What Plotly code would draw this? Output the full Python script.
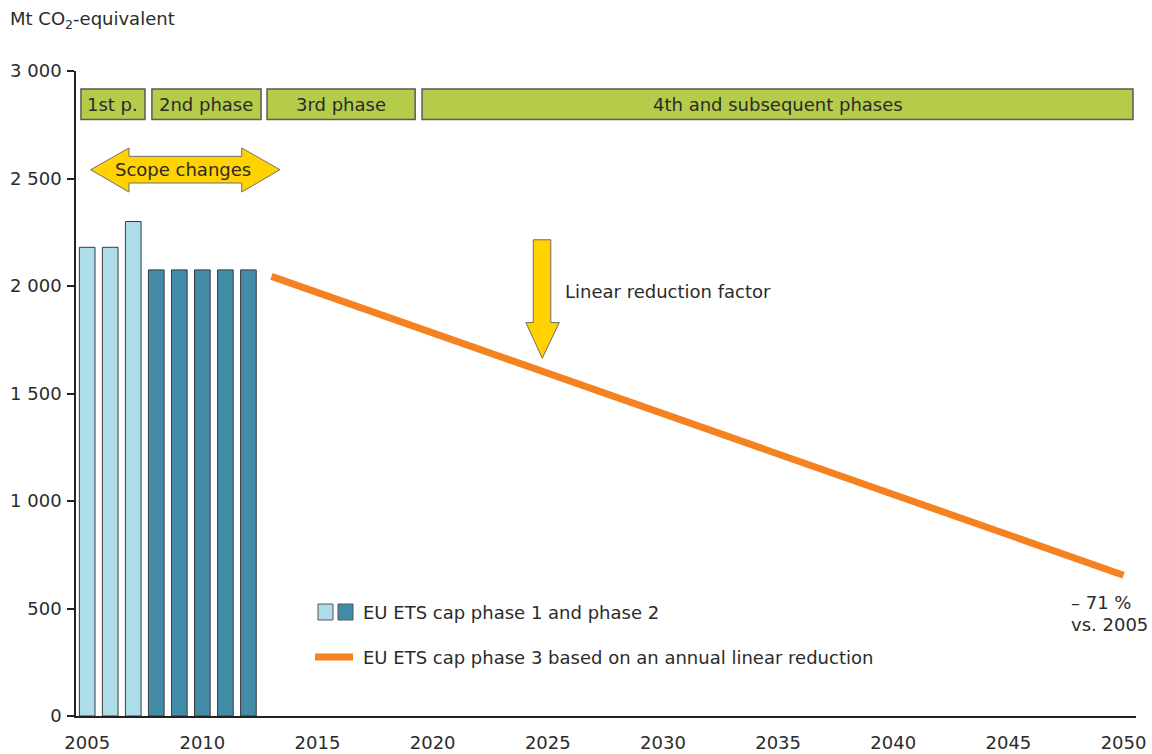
import plotly.graph_objects as go

# ---- data ----
phase1_years = [2005, 2006, 2007]
phase1_cap = [2180, 2180, 2300]
phase2_years = [2008, 2009, 2010, 2011, 2012]
phase2_cap = [2075, 2075, 2075, 2075, 2075]
phase3_years = [2013, 2050]
phase3_cap = [2045, 655]
x_ticks = [2005, 2010, 2015, 2020, 2025, 2030, 2035, 2040, 2045, 2050]
y_ticks = [0, 500, 1000, 1500, 2000, 2500, 3000]
phase_labels = ["1st p.", "2nd phase", "3rd phase", "4th and subsequent phases"]
phase_spans = [(2004.73, 2007.51), (2007.81, 2012.55), (2012.81, 2019.24), (2019.54, 2050.41)]

FONT = "DejaVu Sans"
TXT = "#2b2b2b"
LIGHT = "#acdde8"
DARK = "#438ca7"
ORANGE = "#f58220"
YELLOW = "#ffd200"
GREEN = "#b5cb4a"

# screen geometry (body margin removed via post_script)
W, H = 1152, 754
SL, SR, ST, SB = 76, 1136, 71, 716   # plot area in screen pixels
L, T, R, B = SL, ST, W - SR, H - SB
PW, PH = SR - SL, SB - ST


def px(x):
    return (x - SL) / PW


def py(y):
    return (SB - y) / PH


def ptext(x, y, text, size=18):
    return dict(x=px(x), y=py(y), xref="paper", yref="paper", xanchor="left", yanchor="middle",
                showarrow=False, text=text, font=dict(family=FONT, size=size, color=TXT))


fig = go.Figure()
fig.add_trace(go.Bar(x=phase1_years, y=phase1_cap, width=0.68,
                     marker=dict(color=LIGHT, line=dict(color="#3a3a3a", width=1)), showlegend=False))
fig.add_trace(go.Bar(x=phase2_years, y=phase2_cap, width=0.68,
                     marker=dict(color=DARK, line=dict(color="#3a3a3a", width=1)), showlegend=False))
fig.add_trace(go.Scatter(x=phase3_years, y=phase3_cap, mode="lines",
                         line=dict(color=ORANGE, width=7), showlegend=False))

shapes = []
annotations = []

# phase boxes
for lab, (x0, x1) in zip(phase_labels, phase_spans):
    shapes.append(dict(type="rect", xref="x", yref="y", x0=x0, x1=x1, y0=2774, y1=2916,
                       fillcolor=GREEN, line=dict(color="#5a5a5a", width=1.5), layer="above"))
    annotations.append(dict(x=(x0 + x1) / 2, y=2845, xref="x", yref="y", text=lab, showarrow=False,
                            font=dict(family=FONT, size=18, color=TXT)))

# scope changes double arrow
xa = [2005.15, 2006.815, 2011.71, 2013.37]
ya = [2437, 2479, 2541, 2603, 2642]
path = (f"M {xa[0]},{ya[2]} L {xa[1]},{ya[4]} L {xa[1]},{ya[3]} L {xa[2]},{ya[3]} L {xa[2]},{ya[4]} "
        f"L {xa[3]},{ya[2]} L {xa[2]},{ya[0]} L {xa[2]},{ya[1]} L {xa[1]},{ya[1]} L {xa[1]},{ya[0]} Z")
shapes.append(dict(type="path", xref="x", yref="y", path=path, fillcolor=YELLOW,
                   line=dict(color="#6e6e6e", width=1)))
annotations.append(dict(x=2009.15, y=2544, xref="x", yref="y", text="Scope changes", showarrow=False,
                        font=dict(family=FONT, size=18, color=TXT)))

# down arrow
path2 = ("M 2024.37,2215 L 2025.13,2215 L 2025.13,1830 L 2025.50,1830 L 2024.76,1664 "
         "L 2024.05,1830 L 2024.37,1830 Z")
shapes.append(dict(type="path", xref="x", yref="y", path=path2, fillcolor=YELLOW,
                   line=dict(color="#6e6e6e", width=1)))
annotations.append(dict(x=2025.66, y=1975, xref="x", yref="y", text="Linear reduction factor", showarrow=False,
                        xanchor="left", font=dict(family=FONT, size=18, color=TXT)))

# legend (manual)
shapes.append(dict(type="rect", xref="paper", yref="paper", x0=px(318), x1=px(333), y0=py(620), y1=py(604),
                   fillcolor=LIGHT, line=dict(color="#555", width=1)))
shapes.append(dict(type="rect", xref="paper", yref="paper", x0=px(338), x1=px(353), y0=py(620), y1=py(604),
                   fillcolor=DARK, line=dict(color="#555", width=1)))
shapes.append(dict(type="line", xref="paper", yref="paper", x0=px(315), x1=px(353), y0=py(657), y1=py(657),
                   line=dict(color=ORANGE, width=7)))
annotations.append(ptext(361, 612, "EU ETS cap phase 1 and phase 2"))
annotations.append(ptext(361, 657, "EU ETS cap phase 3 based on an annual linear reduction"))

# end annotation
annotations.append(ptext(1069, 602, "\u2013 71 %"))
annotations.append(ptext(1069, 624, "vs. 2005"))

# axis title
annotations.append(ptext(8, 20, "Mt CO<sub>2</sub>-equivalent"))

fig.update_layout(
    width=W, height=H,
    margin=dict(l=L, r=R, t=T, b=B),
    paper_bgcolor="white", plot_bgcolor="white",
    barmode="overlay",
    separators=". ",
    font=dict(family=FONT, size=18, color=TXT),
    shapes=shapes, annotations=annotations,
    showlegend=False,
)
fig.update_xaxes(range=[2004.514, 2050.54], tickvals=x_ticks, showgrid=False, zeroline=False,
                 showline=True, linecolor="#222", linewidth=1.5, ticks="", tickfont=dict(size=18),
                 ticklabelstandoff=10, automargin=False)
fig.update_yaxes(range=[0, 3000], tickvals=y_ticks, tickformat=",", showgrid=False, zeroline=False,
                 showline=True, linecolor="#222", linewidth=1.5, ticks="outside", ticklen=7,
                 tickcolor="#222", tickwidth=1.5, tickfont=dict(size=18), ticklabelstandoff=2,
                 automargin=False)

fig.write_html("out.html", config={"displayModeBar": False},
               post_script="document.body.style.margin='0';document.body.style.overflow='hidden';")
